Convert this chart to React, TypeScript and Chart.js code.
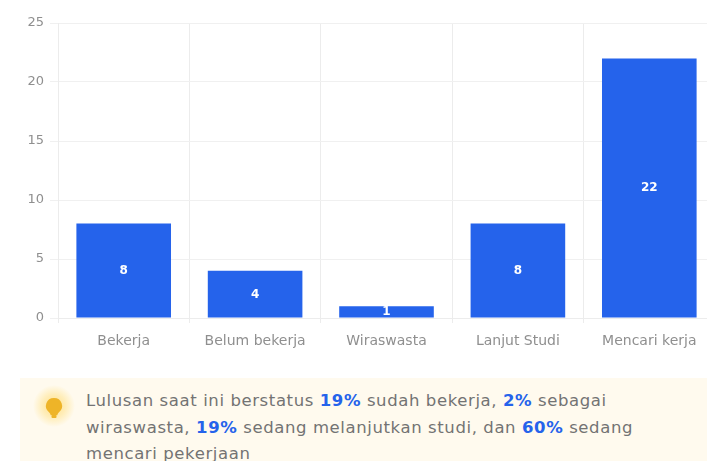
import React, { useEffect, useRef } from "react";
import { Chart, registerables } from "chart.js";

Chart.register(...registerables);

const categories = ["Bekerja", "Belum bekerja", "Wiraswasta", "Lanjut Studi", "Mencari kerja"];
const values = [8, 4, 1, 8, 22];
const FONT = "'DejaVu Sans', sans-serif";

const valueLabels = {
  id: "valueLabels",
  afterDatasetsDraw(chart: any) {
    const { ctx } = chart;
    const meta = chart.getDatasetMeta(0);
    ctx.save();
    ctx.fillStyle = "#ffffff";
    ctx.font = `bold 12px ${FONT}`;
    ctx.textAlign = "center";
    ctx.textBaseline = "middle";
    meta.data.forEach((el: any, i: number) => {
      const base = chart.scales.y.getPixelForValue(0);
      ctx.fillText(String(values[i]), el.x, (el.y + base) / 2);
    });
    ctx.restore();
  },
};

export default function App() {
  const ref = useRef<HTMLCanvasElement>(null);
  useEffect(() => {
    const chart = new Chart(ref.current!, {
      type: "bar",
      data: {
        labels: categories,
        datasets: [{ data: values, backgroundColor: "#2563eb", borderWidth: 0 }],
      },
      options: {
        animation: false,
        responsive: false,
        layout: { padding: { top: 23, right: 1, left: 0, bottom: 0 } },
        plugins: { legend: { display: false }, tooltip: { enabled: false } },
        scales: {
          x: {
            afterFit: (s: any) => { s.height = 40; },
            grid: { color: "#ececec", tickLength: 5 },
            border: { color: "#ececec" },
            ticks: { color: "#8f8f8f", font: { family: FONT, size: 14 }, padding: 10, maxRotation: 0, autoSkip: false },
          },
          y: {
            min: 0,
            max: 25,
            afterFit: (s: any) => { s.width = 58; },
            grid: { color: "#f0f0f0", tickLength: 8 },
            border: { color: "#ececec" },
            ticks: { stepSize: 5, color: "#8f8f8f", font: { family: FONT, size: 13 }, padding: 6 },
          },
        },
      },
      plugins: [valueLabels],
    });
    return () => chart.destroy();
  }, []);

  const hl: React.CSSProperties = { color: "#2563eb", fontWeight: 600 };
  return (
    <div style={{ position: "fixed", inset: 0, width: 707, height: 461, overflow: "hidden", background: "#fff", fontFamily: FONT, filter: "blur(0.7px)" }}>
      <canvas ref={ref} width={716} height={358} style={{ position: "absolute", left: 0, top: 0, width: 716, height: 358 }} />
      <div style={{ position: "absolute", left: 20, top: 378, width: 700, height: 90, background: "#fffaee" }} />
      <svg width="44" height="44" viewBox="0 0 44 44" style={{ position: "absolute", left: 32, top: 385 }}>
        <defs>
          <radialGradient id="glow">
            <stop offset="0%" stopColor="#ffe08a" />
            <stop offset="55%" stopColor="#ffedb8" />
            <stop offset="100%" stopColor="#fffaee" />
          </radialGradient>
        </defs>
        <circle cx="22" cy="21" r="21" fill="url(#glow)" />
        <path d="M22 13a8 8 0 0 0-5 14.300c1 .8 1.600 2 1.600 3h6.800c0-1 .6-2.200 1.600-3A8 8 0 0 0 22 13z" fill="#eeb428" />
        <rect x="19.500" y="30" width="5" height="3" rx="1" fill="#eeb428" />
      </svg>
      <div style={{ position: "absolute", left: 86, top: 388, width: 610, fontSize: 16.5, letterSpacing: "0.6px", lineHeight: "26.500px", color: "#737373", whiteSpace: "nowrap" }}>
        Lulusan saat ini berstatus <span style={hl}>19%</span> sudah bekerja, <span style={hl}>2%</span> sebagai<br />
        wiraswasta, <span style={hl}>19%</span> sedang melanjutkan studi, dan <span style={hl}>60%</span> sedang<br />
        mencari pekerjaan
      </div>
    </div>
  );
}
